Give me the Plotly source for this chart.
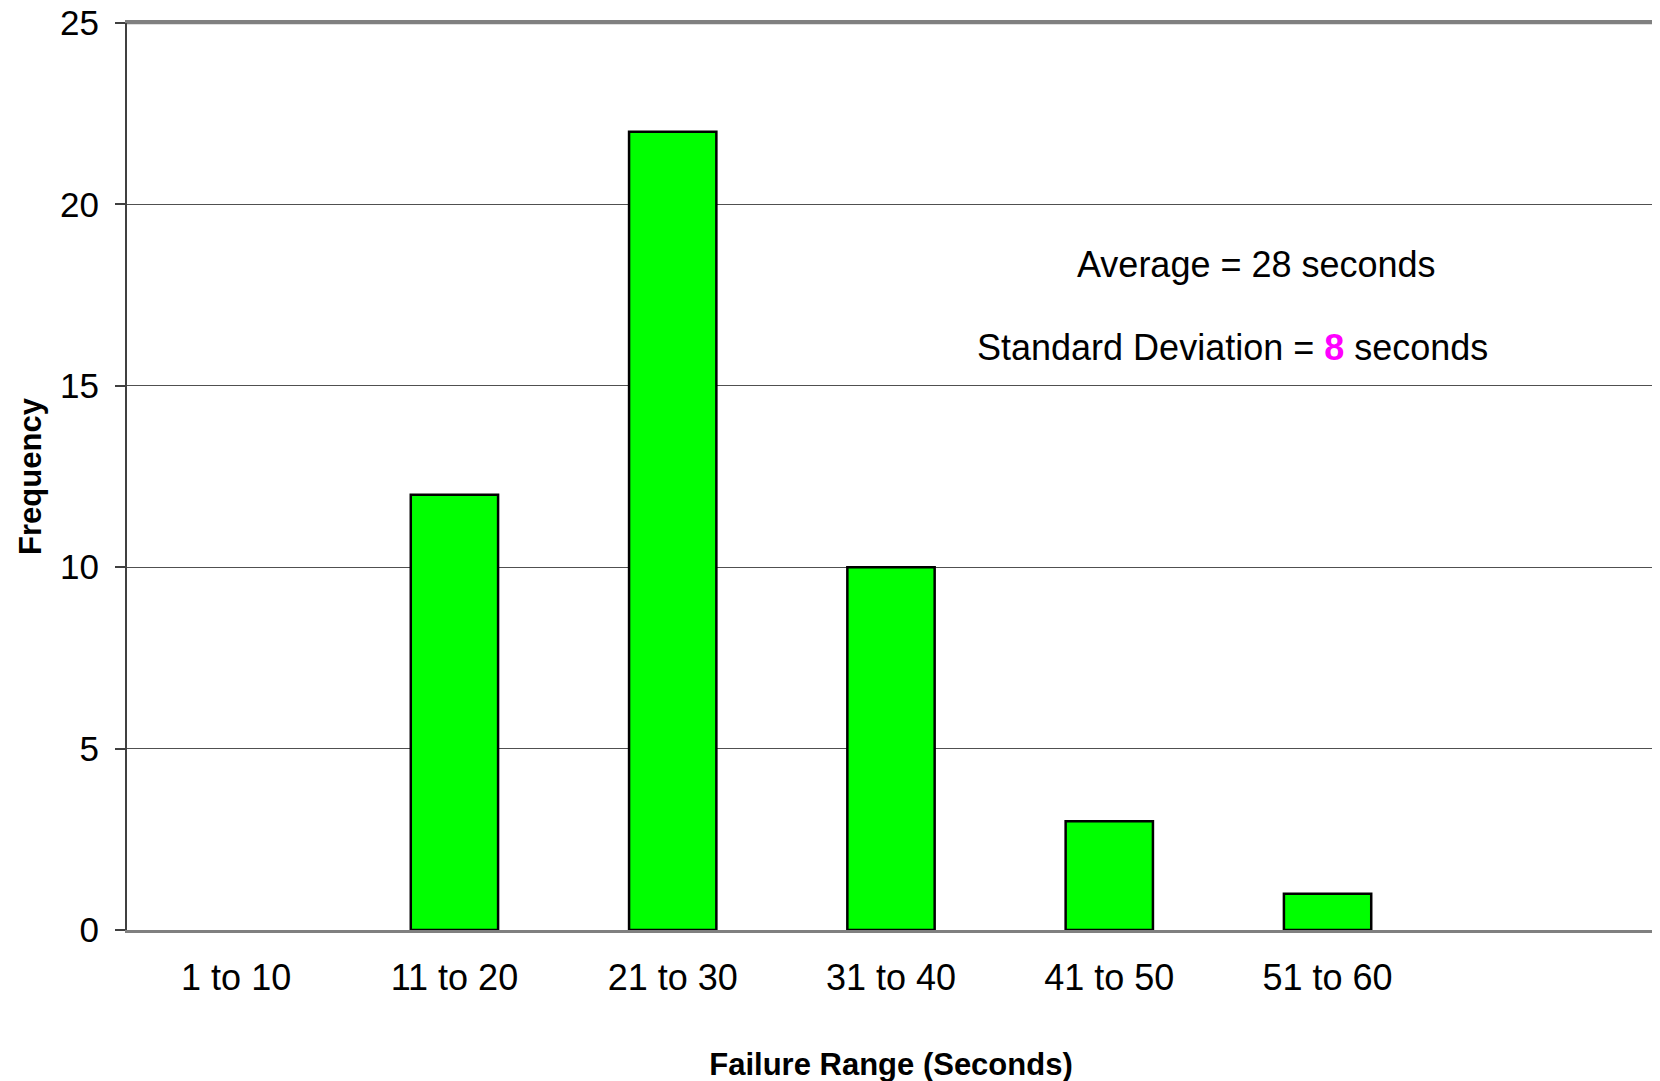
import plotly.graph_objects as go

categories = ["1 to 10", "11 to 20", "21 to 30", "31 to 40", "41 to 50", "51 to 60"]
frequency = [0, 12, 22, 10, 3, 1]
y_ticks = [0, 5, 10, 15, 20, 25]

FONT = "Liberation Sans, Arial, sans-serif"

outline_widths = [0 if v == 0 else 2.5 for v in frequency]

fig = go.Figure()
fig.add_trace(go.Bar(
    x=categories,
    y=frequency,
    marker=dict(color="#00FF00", line=dict(color="#000000", width=outline_widths)),
    width=0.4,
    showlegend=False,
))

fig.update_layout(
    width=1660,
    height=1081,
    margin=dict(l=119, r=13, t=15, b=159),
    paper_bgcolor="white",
    plot_bgcolor="white",
    font=dict(family=FONT, color="black", size=35),
    xaxis=dict(
        range=[-0.5, 6.5],
        automargin=False,
        showline=True, linecolor="#808080", linewidth=2.5, mirror=True,
        showgrid=False, ticks="", ticklabelstandoff=14,
        tickfont=dict(size=36),
        title=dict(text="<b>Failure Range (Seconds)</b>", font=dict(size=31), standoff=57),
    ),
    yaxis=dict(
        range=[0, 25],
        tickvals=y_ticks,
        automargin=False,
        ticklabeloverflow="allow",
        showline=True, linecolor="#404040", linewidth=2,
        showgrid=True, gridcolor="#505050", gridwidth=1,
        ticks="outside", ticklen=10, tickcolor="#404040", tickwidth=1.5,
        ticklabelstandoff=9,
        tickfont=dict(size=35),
        zeroline=False,
        title=dict(text="<b>Frequency</b>", font=dict(size=31), standoff=9),
    ),
    shapes=[
        dict(type="line", xref="paper", yref="paper", x0=1, x1=1, y0=0, y1=1,
             line=dict(color="#808080", width=2)),
        dict(type="line", xref="paper", yref="paper", x0=0, x1=1, y0=1, y1=1,
             line=dict(color="#808080", width=2.5)),
    ],
    annotations=[
        dict(text="Average = 28 seconds", xref="paper", yref="y",
             x=0.7395, y=18.35, showarrow=False, font=dict(size=36),
             xanchor="center", yanchor="middle"),
        dict(text="Standard Deviation = <b><span style='color:#FF00FF'>8</span></b> seconds",
             xref="paper", yref="y", x=0.7232, y=16.05, showarrow=False,
             font=dict(size=36), xanchor="center", yanchor="middle"),
    ],
)

fig.write_html("out.html")
